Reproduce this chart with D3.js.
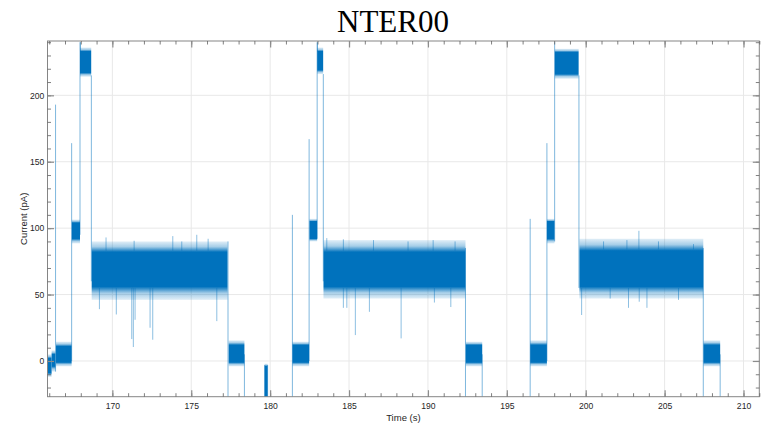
<!DOCTYPE html>
<html>
<head>
<meta charset="utf-8">
<script src="https://cdn.jsdelivr.net/npm/d3@7"></script>
<style>
  html, body { margin: 0; padding: 0; background: #ffffff; }
  svg { display: block; }
</style>
</head>
<body>
<svg id="chart" width="775" height="428"></svg>
<script>
// Current trace of a nanopore recording: plateaus of open-pore and blocked current.
// Each plateau: start/end time (s), outer noise envelope and dense core band (pA).
const segStart = [165.89, 166.15, 166.43, 167.43, 167.95, 168.69, 177.37, 179.65, 181.41, 182.49, 182.98, 183.38, 192.40, 196.48, 197.54, 198.04, 199.60, 207.46];
const segEnd   = [166.15, 166.40, 167.42, 167.95, 168.66, 177.30, 178.37, 179.84, 182.47, 182.98, 183.36, 192.38, 193.44, 197.54, 198.02, 199.55, 207.45, 208.52];
const envLow   = [-12,  -8,  -4,  88.5, 214, 46, -4, -40, -4,  90, 216, 47, -4,  -4,  88.5, 212.5, 47, -4];
const coreLow  = [ -9,  -4,  -1,  92,   217, 56, -1, -40, -1,  92, 219, 56, -1,  -1,  92,   216,   56, -1];
const coreHigh = [  2,   5,  11,  104,  233, 82, 12,  -4, 12, 105, 233, 82, 12,  12, 105,   232.5, 83, 12];
const envHigh  = [  5,   8, 14.5, 106.5, 236, 90, 15.5, -2, 14.5, 107, 236, 91, 14.5, 15.5, 107, 235, 92, 15.5];

// Level changes between plateaus: [time, from, to]
const stepTime = [166.40, 167.42, 167.95, 168.67, 177.33, 178.37, 179.65, 179.84, 181.41, 182.47, 182.98, 183.37, 192.38, 193.44, 196.48, 197.54, 198.03, 199.57, 207.45, 208.52];
const stepFrom = [-8,   0,   95, 215,  90,   5, -40, -40, -40,   0,  92, 216,  85,   5, -40,   0,  90, 215,  85,   5];
const stepTo   = [193, 164, 240,  60, -40, -40,  -3,  -3, 110, 167, 240,  60, -40, -40, 107, 164, 240,  55, -40, -40];

// Isolated noise excursions within the plateaus: [time, from, to]
const spikeTime = [169.18, 170.25, 171.23, 171.33, 171.44, 172.39, 172.56, 176.62, 169.60, 171.38, 173.83, 175.35, 176.07, 174.40,
                   183.59, 184.64, 184.86, 185.40, 186.29, 188.30, 190.41, 191.45, 184.64, 186.55, 188.74, 190.33, 191.72,
                   199.74, 201.55, 202.71, 203.39, 203.88, 205.88, 203.37, 202.61, 204.61, 201.13, 206.83, 167.98, 183.0];
const spikeFrom = [55, 55, 55, 55, 55, 55, 55, 55, 83, 83, 83, 83, 83, 83,
                   83, 55, 55, 55, 55, 55, 55, 55, 83, 83, 83, 83, 83,
                   55, 55, 55, 55, 55, 55, 84, 84, 84, 84, 84, 233, 233];
const spikeTo   = [39, 35, 16.5, 10.5, 31, 25, 16, 30, 93, 90.5, 94, 95, 92, 90,
                   92.5, 40, 40, 19.5, 37, 17, 44, 40.6, 91.6, 91, 90, 91, 90,
                   34.6, 47, 40, 44.6, 40, 46, 98, 91, 90, 90, 88, 240, 240];

const xMajor = d3.range(170, 211, 5);
const xMinor = d3.range(166, 212, 1);
const yMajor = [0, 50, 100, 150, 200];
const yMinor = d3.range(-20, 241, 10);

const trace = "#0072BD";
const svg = d3.select("#chart");
const L = 47.5, R = 759.3, T = 41, B = 396.7;

const x = d3.scaleLinear().domain([165.89, 211.0]).range([L, R]);
const y = d3.scaleLinear().domain([-26.9, 240.9]).range([B, T]);

svg.append("rect").attr("width", 775).attr("height", 428).attr("fill", "#ffffff");

const defs = svg.append("defs");
defs.append("clipPath").attr("id", "plotClip")
  .append("rect").attr("x", L).attr("y", T).attr("width", R - L).attr("height", B - T);

const idx = d3.range(segStart.length);

// per-plateau vertical fade: noise fringe thins out towards the envelope
idx.forEach(i => {
  const span = envHigh[i] - envLow[i];
  const oTop = (envHigh[i] - coreHigh[i]) / span;
  const oBot = (envHigh[i] - coreLow[i]) / span;
  const g = defs.append("linearGradient").attr("id", "fade" + i)
    .attr("x1", 0).attr("y1", 0).attr("x2", 0).attr("y2", 1);
  [[0, 0.12], [oTop * 0.5, 0.35], [oTop, 1], [oBot, 1], [oBot + (1 - oBot) * 0.5, 0.35], [1, 0.12]]
    .forEach(([o, a]) => g.append("stop").attr("offset", o).attr("stop-color", trace).attr("stop-opacity", a));
});

// grid
const grid = svg.append("g");
grid.selectAll("line.gx").data(xMajor).join("line")
  .attr("x1", d => x(d)).attr("x2", d => x(d)).attr("y1", T).attr("y2", B)
  .attr("stroke", "#e8e8e8").attr("stroke-width", 1);
grid.selectAll("line.gy").data(yMajor).join("line")
  .attr("y1", d => y(d)).attr("y2", d => y(d)).attr("x1", L).attr("x2", R)
  .attr("stroke", "#e8e8e8").attr("stroke-width", 1);

const plot = svg.append("g").attr("clip-path", "url(#plotClip)");

// plateau bands
plot.selectAll("rect.band").data(idx).join("rect")
  .attr("x", i => x(segStart[i])).attr("width", i => x(segEnd[i]) - x(segStart[i]))
  .attr("y", i => y(envHigh[i])).attr("height", i => y(envLow[i]) - y(envHigh[i]))
  .attr("fill", i => `url(#fade${i})`);

// level transitions
plot.selectAll("line.step").data(d3.range(stepTime.length)).join("line")
  .attr("x1", i => x(stepTime[i])).attr("x2", i => x(stepTime[i]))
  .attr("y1", i => y(stepFrom[i])).attr("y2", i => y(stepTo[i]))
  .attr("stroke", trace).attr("stroke-opacity", 0.5).attr("stroke-width", 1);

// noise excursions
plot.selectAll("line.spike").data(d3.range(spikeTime.length)).join("line")
  .attr("x1", i => x(spikeTime[i])).attr("x2", i => x(spikeTime[i]))
  .attr("y1", i => y(spikeFrom[i])).attr("y2", i => y(spikeTo[i]))
  .attr("stroke", trace).attr("stroke-opacity", 0.5).attr("stroke-width", 0.9);

// axes box
svg.append("rect").attr("x", L).attr("y", T).attr("width", R - L).attr("height", B - T)
  .attr("fill", "none").attr("stroke", "#858585").attr("stroke-width", 1);

function styleAxis(g, color, width) {
  g.select(".domain").remove();
  g.selectAll(".tick line").attr("stroke", color).attr("stroke-width", width);
}
const fontTick = "Liberation Sans, Arial, Helvetica, sans-serif";

// minor ticks (inward, all four sides)
svg.append("g").attr("transform", `translate(0,${B})`)
  .call(d3.axisBottom(x).tickValues(xMinor).tickSize(-3.5).tickFormat(""))
  .call(g => styleAxis(g, "#606060", 0.8));
svg.append("g").attr("transform", `translate(0,${T})`)
  .call(d3.axisTop(x).tickValues(xMinor).tickSize(-3.5).tickFormat(""))
  .call(g => styleAxis(g, "#606060", 0.8));
svg.append("g").attr("transform", `translate(${L},0)`)
  .call(d3.axisLeft(y).tickValues(yMinor).tickSize(-3.5).tickFormat(""))
  .call(g => styleAxis(g, "#606060", 0.8));
svg.append("g").attr("transform", `translate(${R},0)`)
  .call(d3.axisRight(y).tickValues(yMinor).tickSize(-3.5).tickFormat(""))
  .call(g => styleAxis(g, "#606060", 0.8));

// major ticks with labels
const xAx = svg.append("g").attr("transform", `translate(0,${B})`)
  .call(d3.axisBottom(x).tickValues(xMajor).tickSize(-6.5).tickPadding(6).tickFormat(d3.format("d")))
  .call(g => styleAxis(g, "#8c8c8c", 1.2));
xAx.selectAll("text").attr("font-family", fontTick).attr("font-size", 8.6).attr("fill", "#262626");

const yAx = svg.append("g").attr("transform", `translate(${L},0)`)
  .call(d3.axisLeft(y).tickValues(yMajor).tickSize(-6.5).tickPadding(3.2).tickFormat(d3.format("d")))
  .call(g => styleAxis(g, "#8c8c8c", 1.2));
yAx.selectAll("text").attr("font-family", fontTick).attr("font-size", 8.6).attr("fill", "#262626");

svg.append("g").attr("transform", `translate(0,${T})`)
  .call(d3.axisTop(x).tickValues(xMajor).tickSize(-6.5).tickFormat(""))
  .call(g => styleAxis(g, "#8c8c8c", 1.2));
svg.append("g").attr("transform", `translate(${R},0)`)
  .call(d3.axisRight(y).tickValues(yMajor).tickSize(-6.5).tickFormat(""))
  .call(g => styleAxis(g, "#8c8c8c", 1.2));

// labels
svg.append("text").attr("x", (L + R) / 2).attr("y", 420.5)
  .attr("text-anchor", "middle").attr("font-family", fontTick).attr("font-size", 9.5)
  .attr("fill", "#262626").text("Time (s)");
svg.append("text").attr("transform", `translate(26.5,${(T + B) / 2}) rotate(-90)`)
  .attr("text-anchor", "middle").attr("font-family", fontTick).attr("font-size", 9.5)
  .attr("fill", "#262626").text("Current (pA)");

svg.append("text").attr("x", 393).attr("y", 32)
  .attr("text-anchor", "middle").attr("font-family", "Liberation Serif, Times New Roman, serif")
  .attr("font-size", 31).attr("fill", "#000000").text("NTER00");
</script>
</body>
</html>
